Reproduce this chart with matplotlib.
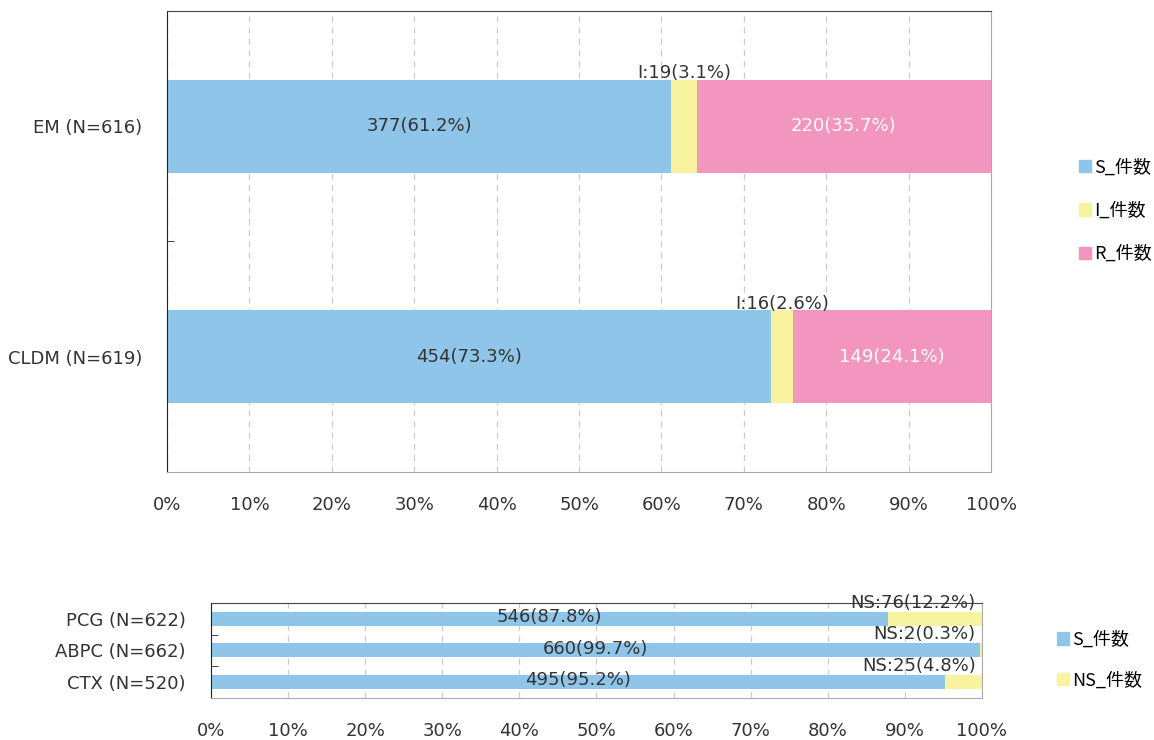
import matplotlib
matplotlib.use("Agg")
import matplotlib.pyplot as plt
from matplotlib.patches import Patch
import numpy as np

# top chart: S / I / R counts
top_drugs = ["EM", "CLDM"]
top_n = [616, 619]
top_s = [377, 454]
top_i = [19, 16]
top_r = [220, 149]

# bottom chart: S / NS counts
bot_drugs = ["PCG", "ABPC", "CTX"]
bot_n = [622, 662, 520]
bot_s = [546, 660, 495]
bot_ns = [76, 2, 25]

x_ticks = list(range(0, 101, 10))
legend_top = ["S_件数", "I_件数", "R_件数"]
legend_bot = ["S_件数", "NS_件数"]

BLUE = "#8EC5E9"
YELLOW = "#F8F39E"
PINK = "#F296C0"
TEXT = "#333333"
CJK = ["Noto Sans CJK JP", "DejaVu Sans"]

plt.rcParams["font.family"] = ["DejaVu Sans"]
plt.rcParams["font.size"] = 13


def style_axes(ax, labels, n_list):
    ax.set_xlim(0, 100)
    ax.set_ylim(len(labels) - 0.5, -0.5)
    ax.set_xticks(x_ticks)
    ax.set_xticklabels([f"{t}%" for t in x_ticks], color=TEXT)
    ax.tick_params(axis="x", length=0, pad=17)
    ax.set_yticks(range(len(labels)))
    ax.set_yticklabels([f"{d} (N={n})" for d, n in zip(labels, n_list)], color=TEXT)
    ax.tick_params(axis="y", which="major", length=0, pad=18)
    ax.set_yticks(np.arange(len(labels) + 1) - 0.5, minor=True)
    ax.tick_params(axis="y", which="minor", direction="in", length=5, color="#222222")
    ax.grid(axis="x", color="#cccccc", linestyle=(0, (5, 4)), linewidth=0.9)
    ax.set_axisbelow(True)
    ax.spines["left"].set_color("#222222")
    ax.spines["top"].set_color("#444444")
    ax.spines["right"].set_color("#aaaaaa")
    ax.spines["bottom"].set_color("#aaaaaa")


fig = plt.figure(figsize=(11.54, 7.40), dpi=100)

# ---- top chart
ax1 = fig.add_axes([0.1447, 0.3622, 0.7141, 0.6230])
h1 = 0.404
s_pct = [s / n * 100 for s, n in zip(top_s, top_n)]
i_pct = [i / n * 100 for i, n in zip(top_i, top_n)]
r_pct = [r / n * 100 for r, n in zip(top_r, top_n)]
y1 = np.arange(len(top_drugs))
ax1.barh(y1, s_pct, height=h1, color=BLUE)
ax1.barh(y1, i_pct, left=s_pct, height=h1, color=YELLOW)
ax1.barh(y1, r_pct, left=np.add(s_pct, i_pct), height=h1, color=PINK)
for k in range(len(top_drugs)):
    ax1.text(s_pct[k] / 2, k, f"{top_s[k]}({s_pct[k]:.1f}%)", ha="center", va="center", color=TEXT)
    ax1.text(s_pct[k] + i_pct[k] / 2, k - h1 / 2 + 0.012, f"I:{top_i[k]}({i_pct[k]:.1f}%)",
             ha="center", va="bottom", color=TEXT)
    ax1.text(s_pct[k] + i_pct[k] + r_pct[k] / 2, k, f"{top_r[k]}({r_pct[k]:.1f}%)",
             ha="center", va="center", color="white")
style_axes(ax1, top_drugs, top_n)

fig.legend(handles=[Patch(color=c) for c in (BLUE, YELLOW, PINK)], labels=legend_top,
           loc="center left", bbox_to_anchor=(0.921, 0.715), frameon=False,
           handlelength=0.68, handleheight=0.68, handletextpad=0.15, labelspacing=1.4,
           prop={"family": CJK, "size": 13})

# ---- bottom chart
ax2 = fig.add_axes([0.1828, 0.0568, 0.6681, 0.1284])
h2 = 0.44
bs_pct = [s / n * 100 for s, n in zip(bot_s, bot_n)]
bns_pct = [v / n * 100 for v, n in zip(bot_ns, bot_n)]
y2 = np.arange(len(bot_drugs))
ax2.barh(y2, bs_pct, height=h2, color=BLUE)
ax2.barh(y2, bns_pct, left=bs_pct, height=h2, color=YELLOW)
for k in range(len(bot_drugs)):
    ax2.text(bs_pct[k] / 2, k - 0.06, f"{bot_s[k]}({bs_pct[k]:.1f}%)", ha="center", va="center", color=TEXT)
    ax2.text(99.2, k - h2 / 2 + 0.0, f"NS:{bot_ns[k]}({bns_pct[k]:.1f}%)",
             ha="right", va="bottom", color=TEXT)
style_axes(ax2, bot_drugs, bot_n)

fig.legend(handles=[Patch(color=c) for c in (BLUE, YELLOW)], labels=legend_bot,
           loc="center left", bbox_to_anchor=(0.902, 0.108), frameon=False,
           handlelength=0.68, handleheight=0.68, handletextpad=0.15, labelspacing=1.25,
           prop={"family": CJK, "size": 13})

fig.savefig("out.png", dpi=100)
